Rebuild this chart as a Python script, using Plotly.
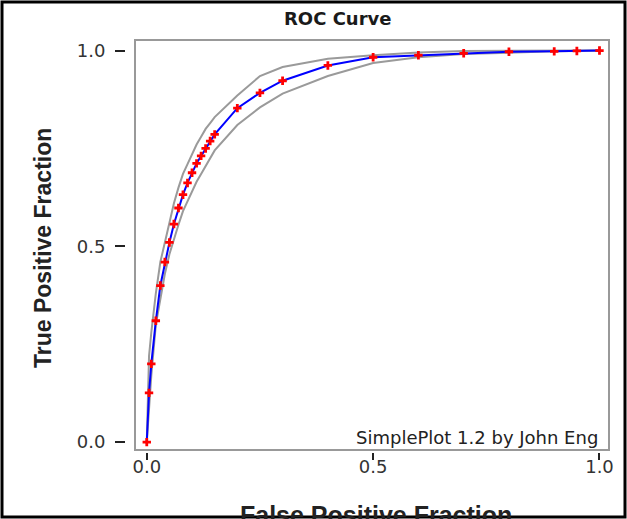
import plotly.graph_objects as go

# ---- data ----
fpf = [0, 0.005, 0.01, 0.02, 0.03, 0.04, 0.05, 0.06, 0.07, 0.08, 0.09, 0.10,
       0.11, 0.12, 0.13, 0.14, 0.15, 0.2, 0.25, 0.3, 0.4, 0.5, 0.6, 0.7,
       0.8, 0.9, 0.95, 1.0]
tpf = [0, 0.126, 0.20, 0.31, 0.40, 0.46, 0.51, 0.557, 0.598, 0.632, 0.662,
       0.688, 0.712, 0.731, 0.75, 0.769, 0.786, 0.853, 0.892, 0.923, 0.962,
       0.983, 0.988, 0.993, 0.997, 0.998, 0.999, 1.0]
tpf_upper = [0, 0.22, 0.28, 0.38, 0.46, 0.51, 0.56, 0.61, 0.65, 0.685, 0.71,
             0.735, 0.76, 0.78, 0.80, 0.815, 0.83, 0.885, 0.935, 0.958, 0.979,
             0.988, 0.995, 0.999, 1.0, 1.0, 1.0, 1.0]
tpf_lower = [0, 0.09, 0.17, 0.30, 0.37, 0.43, 0.48, 0.52, 0.555, 0.59, 0.615,
             0.64, 0.665, 0.685, 0.705, 0.725, 0.745, 0.81, 0.855, 0.89, 0.935,
             0.968, 0.983, 0.991, 0.995, 0.998, 0.999, 1.0]
tick_vals = [0.0, 0.5, 1.0]
tick_text = ["0.0", "0.5", "1.0"]

title_text = "ROC Curve"
x_title = "False Positive Fraction"
y_title = "True Positive Fraction"
credit = "SimplePlot 1.2 by John Eng"

W, H = 627, 519
L, R, T, B = 125, 18, 40, 67
pw, ph = W - L - R, H - T - B


def px(x):
    return (x - L) / pw


def py(y):
    return (H - B - y) / ph


fig = go.Figure()
band_style = dict(color="#9a9a9a", width=2)
fig.add_trace(go.Scatter(x=fpf, y=tpf_upper, mode="lines", line=band_style,
                         hoverinfo="skip"))
fig.add_trace(go.Scatter(x=fpf, y=tpf_lower, mode="lines", line=band_style,
                         hoverinfo="skip"))
fig.add_trace(go.Scatter(x=fpf, y=tpf, mode="lines+markers",
                         line=dict(color="#0000ff", width=2),
                         marker=dict(symbol="cross", size=7, color="#ff0000",
                                     line=dict(width=0))))

tick_font = dict(family="DejaVu Sans", size=18, color="#333333")

fig.update_layout(
    width=W, height=H,
    margin=dict(l=L, r=R, t=T, b=B, pad=0),
    paper_bgcolor="white", plot_bgcolor="white",
    showlegend=False,
    xaxis=dict(domain=[px(135), 1], range=[-0.026, 1.021], anchor="free",
               position=0, showgrid=False, zeroline=False, showline=False,
               tickvals=tick_vals, ticktext=tick_text, ticks="outside",
               ticklen=7, tickwidth=1.5, tickcolor="#222222",
               tickfont=tick_font, ticklabelstandoff=-9),
    yaxis=dict(domain=[py(450), 1], range=[-0.02, 1.027], anchor="free",
               position=0, showgrid=False, zeroline=False, showline=False,
               tickvals=tick_vals, ticktext=tick_text, ticks="outside",
               ticklen=10, tickwidth=1.5, tickcolor="#222222",
               tickfont=tick_font, ticklabelstandoff=6),
)

# plot frame
fig.add_shape(type="rect", xref="x domain", yref="y domain", x0=0, x1=1,
              y0=0, y1=1, line=dict(color="#999999", width=2),
              fillcolor="rgba(0,0,0,0)", layer="below")
# outer black border
fig.add_shape(type="rect", xref="paper", yref="paper", x0=px(2), x1=px(625),
              y0=py(517), y1=py(2), line=dict(color="black", width=3),
              fillcolor="rgba(0,0,0,0)")

fig.add_annotation(text=f"<b>{title_text}</b>", xref="paper", yref="paper",
                   x=px(337), y=py(18), xanchor="center", yanchor="middle",
                   showarrow=False,
                   font=dict(family="DejaVu Sans", size=18, color="#1a1a1a"))
fig.add_annotation(text=f"<b>{y_title}</b>", xref="paper", yref="paper",
                   x=px(43), y=py(248), xanchor="center", yanchor="middle",
                   showarrow=False, textangle=-90,
                   font=dict(family="Liberation Sans", size=23, color="#222222"))
fig.add_annotation(text=f"<b>{x_title}</b>", xref="paper", yref="paper",
                   x=px(376), y=py(499), xanchor="center", yanchor="top",
                   showarrow=False,
                   font=dict(family="Liberation Sans", size=25, color="#222222"))
fig.add_annotation(text=credit, xref="paper", yref="paper",
                   x=px(600), y=py(437), xanchor="right", yanchor="middle",
                   showarrow=False,
                   font=dict(family="DejaVu Sans", size=18, color="#222222"))

fig.write_html("out.html", config={"displayModeBar": False},
               post_script="document.body.style.margin='0px';")
